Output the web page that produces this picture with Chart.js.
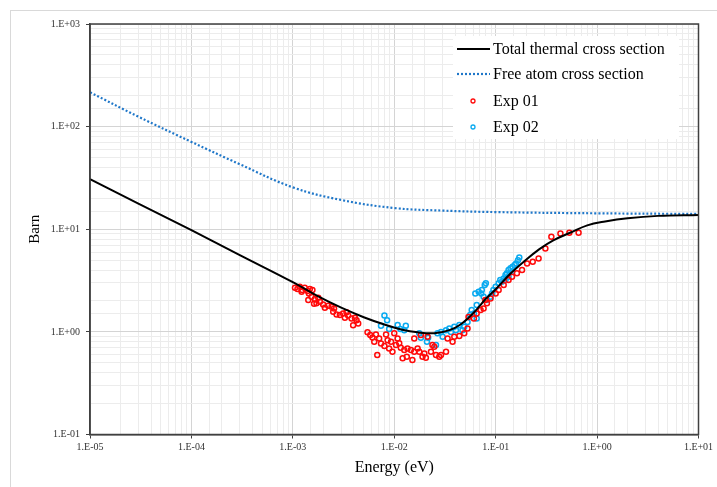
<!DOCTYPE html>
<html>
<head>
<meta charset="utf-8">
<script src="https://cdn.jsdelivr.net/npm/chart.js@4/dist/chart.umd.min.js"></script>
<style>
  html, body { margin: 0; padding: 0; background: #fff; }
  #wrap { width: 717px; height: 487px; }
</style>
</head>
<body>
<div id="wrap"><canvas id="chart" width="717" height="487"></canvas></div>
<script>
// Total thermal cross section (black line)
const totalE = [1e-5, 3e-5, 1e-4, 3e-4, 1e-3, 1.8e-3, 3e-3, 5e-3, 8e-3, 1.2e-2, 1.7e-2, 2.5e-2, 3.5e-2, 4.5e-2, 6e-2, 8e-2, 0.1, 0.14, 0.19, 0.27, 0.37, 0.55, 0.8, 1.2, 2, 4, 10];
const totalSigma = [30.8, 17.8, 9.8, 5.6, 3.05, 2.2, 1.72, 1.39, 1.18, 1.05, 0.99, 0.97, 1.04, 1.18, 1.52, 2.1, 2.6, 3.7, 4.85, 6.4, 7.8, 9.3, 10.9, 11.9, 12.8, 13.5, 13.8];

// Free atom cross section (blue dotted)
const freeE = [1e-5, 3e-5, 1e-4, 3e-4, 1e-3, 3e-3, 1e-2, 3e-2, 0.1, 1, 10];
const freeSigma = [216, 125, 71, 43, 25.6, 19.3, 16.1, 15.2, 14.7, 14.3, 14.1];

// Exp 01 (red)
const exp01E = [1.05e-3, 1.11e-3, 1.17e-3, 1.235e-3, 1.31e-3, 1.40e-3, 1.47e-3, 1.56e-3, 1.22e-3, 1.44e-3,
  1.42e-3, 1.53e-3, 1.65e-3, 1.78e-3, 1.71e-3, 1.85e-3, 1.62e-3, 1.99e-3, 2.07e-3, 2.23e-3,
  2.41e-3, 2.55e-3, 2.50e-3, 2.70e-3, 2.91e-3, 3.13e-3, 3.38e-3, 3.51e-3, 3.26e-3, 3.79e-3,
  4.09e-3, 4.25e-3, 4.41e-3, 3.93e-3, 5.45e-3, 5.8e-3, 6.1e-3, 6.6e-3, 7.1e-3, 6.35e-3,
  7.4e-3, 8.0e-3, 8.6e-3, 8.3e-3, 9.3e-3, 8.9e-3, 9.6e-3, 6.8e-3, 1.04e-2, 1.12e-2,
  1.16e-2, 1.255e-2, 1.35e-2, 1.46e-2, 1.575e-2, 1.21e-2, 1.33e-2, 1.51e-2, 1.7e-2, 1.765e-2,
  1.9e-2, 1.98e-2, 2.3e-2, 1.83e-2, 1.0e-2, 1.08e-2, 1.575e-2, 2.13e-2, 2.05e-2, 2.48e-2,
  2.58e-2, 2.89e-2, 2.78e-2, 3.24e-2, 2.38e-2, 3.76e-2, 3.36e-2, 3.91e-2, 4.38e-2, 4.9e-2,
  5.28e-2, 5.4e-2, 6.1e-2, 6.5e-2, 7.1e-2, 7.6e-2, 8.2e-2, 8.9e-2, 0.1, 0.107,
  0.12, 0.134, 0.145, 0.162, 0.182, 0.204, 0.232, 0.265, 0.309, 0.354,
  0.435, 0.533, 0.657, 7.9e-2];
const exp01Sigma = [2.69, 2.61, 2.75, 2.56, 2.69, 2.50, 2.61, 2.56, 2.46, 2.37,
  2.04, 2.20, 2.09, 2.15, 1.90, 1.97, 1.88, 1.85, 1.72, 1.80,
  1.76, 1.69, 1.57, 1.48, 1.46, 1.51, 1.55, 1.44, 1.37, 1.35,
  1.37, 1.30, 1.21, 1.16, 0.99, 0.93, 0.88, 0.945, 0.86, 0.80,
  0.77, 0.73, 0.83, 0.945, 0.80, 0.69, 0.64, 0.594, 0.744, 0.773,
  0.70, 0.665, 0.69, 0.665, 0.64, 0.552, 0.572, 0.531, 0.69, 0.64,
  0.572, 0.617, 0.64, 0.93, 0.967, 0.864, 0.864, 0.896, 0.56, 0.716,
  0.594, 0.594, 0.572, 0.64, 0.744, 0.80, 0.864, 0.896, 0.91, 0.967,
  1.08, 1.40, 1.35, 1.51, 1.63, 1.69, 1.90, 2.12, 2.37, 2.56,
  2.86, 3.2, 3.44, 3.72, 4.0, 4.65, 4.82, 5.2, 6.5, 8.44,
  9.1, 9.23, 9.23, 2.04];

// Exp 02 (light blue)
const exp02E = [8.0e-3, 8.5e-3, 7.4e-3, 8.9e-3, 1.08e-2, 1.15e-2, 1.30e-2, 1.255e-2, 1.765e-2, 1.83e-2,
  2.16e-2, 2.10e-2, 2.58e-2, 2.67e-2, 2.89e-2, 3.0e-2, 3.24e-2, 3.49e-2, 3.62e-2, 3.91e-2,
  4.06e-2, 4.38e-2, 4.7e-2, 4.9e-2, 5.28e-2, 5.6e-2, 5.8e-2, 6.1e-2, 6.5e-2, 6.5e-2,
  6.3e-2, 6.8e-2, 7.3e-2, 7.2e-2, 7.8e-2, 8.0e-2, 7.6e-2, 8.2e-2, 8.9e-2, 9.2e-2,
  9.5e-2, 0.1, 0.107, 0.111, 0.115, 0.12, 0.125, 0.129, 0.134, 0.140,
  0.147, 0.154, 0.159, 0.166, 0.171, 0.145, 0.134, 0.125];
const exp02Sigma = [1.44, 1.30, 1.15, 1.065, 1.165, 1.065, 1.15, 1.04, 0.967, 0.876,
  0.876, 0.80, 0.744, 0.967, 1.0, 0.896, 1.04, 1.08, 1.0, 1.12,
  1.04, 1.165, 1.04, 1.12, 1.25, 1.46, 1.63, 1.51, 1.35, 1.83,
  2.37, 2.46, 2.56, 2.37, 2.86, 2.97, 2.20, 2.04, 2.20, 2.37,
  2.56, 2.75, 2.97, 3.2, 3.08, 3.32, 3.58, 3.72, 4.0, 4.16,
  4.31, 4.48, 4.65, 5.0, 5.3, 3.85, 3.44, 3.2];

const legendLabels = ['Total thermal cross section', 'Free atom cross section', 'Exp 01', 'Exp 02'];

function toPoints(xs, ys) {
    return xs.map((x, i) => ({ x: x, y: ys[i] }));
}

function isPow10(v) {
    const e = Math.round(Math.log10(v));
    return Math.abs(v / Math.pow(10, e) - 1) < 1e-6;
}

function excelLabel(v) {
    if (!isPow10(v)) return '';
    const e = Math.round(Math.log10(v));
    const a = Math.abs(e);
    return '1.E' + (e < 0 ? '-' : '+') + (a < 10 ? '0' : '') + a;
}

const serif = 'Liberation Serif';

// frame, plot box and the legend inside the plot
const decorPlugin = {
    id: 'decor',
    beforeDraw(chart) {
        const c = chart.ctx;
        c.save();
        c.fillStyle = '#fff';
        c.fillRect(0, 0, chart.width, chart.height);
        c.strokeStyle = '#d9d9d9';
        c.lineWidth = 1;
        c.strokeRect(10.5, 10.5, chart.width + 20, chart.height + 20);
        c.restore();
    },
    afterDraw(chart) {
        const c = chart.ctx;
        const a = chart.chartArea;
        c.save();
        c.strokeStyle = '#404040';
        c.lineWidth = 1.5;
        c.strokeRect(a.left, a.top, a.right - a.left, a.bottom - a.top);

        // legend
        c.fillStyle = '#fff';
        c.fillRect(453, 36, 226, 103);
        const rows = [49, 74, 101, 127];
        c.font = '16px "' + serif + '"';
        c.textBaseline = 'middle';
        c.textAlign = 'left';
        chart.data.datasets.forEach((ds, i) => {
            const y = rows[i];
            if (ds.showLine) {
                c.beginPath();
                c.strokeStyle = ds.borderColor;
                c.lineWidth = ds.borderWidth;
                c.setLineDash(ds.borderDash || []);
                c.moveTo(457, y);
                c.lineTo(490, y);
                c.stroke();
                c.setLineDash([]);
            } else {
                c.beginPath();
                c.strokeStyle = ds.borderColor;
                c.lineWidth = 1.3;
                c.arc(473, y, 2, 0, Math.PI * 2);
                c.stroke();
            }
            c.fillStyle = '#000';
            c.fillText(legendLabels[i], 493, y + 1);
        });
        c.restore();
    }
};

const gridColor = ctx => (ctx.tick && isPow10(ctx.tick.value)) ? '#d4d4d4' : '#ececec';
const tickColor = ctx => (ctx.tick && isPow10(ctx.tick.value)) ? '#404040' : 'rgba(0,0,0,0)';

new Chart(document.getElementById('chart'), {
    type: 'scatter',
    data: {
        datasets: [{
            label: legendLabels[0],
            data: toPoints(totalE, totalSigma),
            showLine: true,
            borderColor: '#000000',
            borderWidth: 2,
            pointRadius: 0,
            tension: 0.4
        }, {
            label: legendLabels[1],
            data: toPoints(freeE, freeSigma),
            showLine: true,
            borderColor: '#1f77c9',
            borderWidth: 2.2,
            borderDash: [2, 2],
            pointRadius: 0,
            tension: 0.4
        }, {
            label: legendLabels[2],
            data: toPoints(exp01E, exp01Sigma),
            showLine: false,
            borderColor: '#ff0a0a',
            backgroundColor: 'rgba(255,255,255,0)',
            borderWidth: 1.5,
            pointRadius: 2.5
        }, {
            label: legendLabels[3],
            data: toPoints(exp02E, exp02Sigma),
            showLine: false,
            borderColor: '#0aaaf0',
            backgroundColor: 'rgba(255,255,255,0)',
            borderWidth: 1.5,
            pointRadius: 2.5
        }]
    },
    options: {
        responsive: false,
        animation: false,
        devicePixelRatio: 1,
        layout: { padding: { left: 0, top: 24, right: 18.5, bottom: 0 } },
        plugins: {
            legend: { display: false },
            tooltip: { enabled: false }
        },
        scales: {
            x: {
                type: 'logarithmic',
                min: 1e-5,
                max: 10,
                afterFit(scale) { scale.height = 52.5; },
                grid: { color: gridColor, tickColor: tickColor, tickLength: 4, lineWidth: 1 },
                border: { color: '#404040', width: 1.5 },
                ticks: {
                    autoSkip: false,
                    maxRotation: 0,
                    padding: 3,
                    color: '#333',
                    font: { family: serif, size: 10 },
                    callback: v => excelLabel(v)
                },
                title: {
                    display: true,
                    text: 'Energy (eV)',
                    color: '#000',
                    font: { family: serif, size: 16 },
                    padding: { top: 0, bottom: 10 }
                }
            },
            y: {
                type: 'logarithmic',
                min: 0.1,
                max: 1000,
                afterFit(scale) { scale.width = 90; },
                grid: { color: gridColor, tickColor: tickColor, tickLength: 4, lineWidth: 1 },
                border: { color: '#404040', width: 1.5 },
                ticks: {
                    autoSkip: false,
                    padding: 6,
                    color: '#333',
                    font: { family: serif, size: 10 },
                    callback: v => excelLabel(v)
                },
                title: {
                    display: true,
                    text: 'Barn',
                    color: '#000',
                    font: { family: serif, size: 15 },
                    padding: { top: 26, bottom: 0 }
                }
            }
        }
    },
    plugins: [decorPlugin]
});
</script>
</body>
</html>
